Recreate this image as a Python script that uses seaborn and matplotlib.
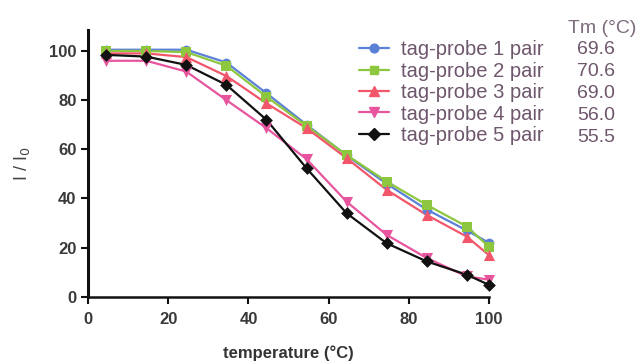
import matplotlib
matplotlib.use("Agg")
import matplotlib.pyplot as plt
from matplotlib.lines import Line2D
import seaborn as sns
import pandas as pd

# ---- data ----
temperature = [4.5, 14.5, 24.5, 34.5, 44.5, 54.5, 64.5, 74.5, 84.5, 94.5, 100]
probe1 = [100.5, 100.5, 100.5, 95.3, 82.8, 70.0, 57.5, 46.0, 35.5, 27.0, 22.0]
probe2 = [100.0, 100.0, 99.5, 94.0, 81.4, 69.5, 57.7, 46.9, 37.4, 28.6, 20.4]
probe3 = [99.0, 99.0, 97.5, 89.8, 78.7, 68.6, 56.4, 43.5, 33.3, 24.5, 17.0]
probe4 = [96.0, 96.0, 91.6, 80.0, 68.6, 56.0, 38.7, 25.2, 15.8, 8.3, 7.0]
probe5 = [98.4, 97.7, 94.3, 86.2, 72.0, 52.3, 34.0, 21.8, 14.4, 9.0, 4.9]
series_labels = ["tag-probe 1 pair", "tag-probe 2 pair", "tag-probe 3 pair",
                 "tag-probe 4 pair", "tag-probe 5 pair"]
tm_values = ["69.6", "70.6", "69.0", "56.0", "55.5"]
x_ticks = [0, 20, 40, 60, 80, 100]
y_ticks = [0, 20, 40, 60, 80, 100]

colors = ["#5b80d8", "#8dc63f", "#f2566b", "#e8559f", "#111111"]
markers = ["o", "s", "^", "v", "D"]
msizes = [7, 7, 8, 8, 6.5]

rows = []
for lab, vals in zip(series_labels, [probe1, probe2, probe3, probe4, probe5]):
    for t, v in zip(temperature, vals):
        rows.append({"temperature": t, "value": v, "series": lab})
df = pd.DataFrame(rows)

sns.set_theme(style="ticks")
plt.rcParams["font.family"] = ["Liberation Sans", "DejaVu Sans"]

fig = plt.figure(figsize=(6.44, 3.62), dpi=100)
ax = fig.add_axes([0.137, 0.180, 0.622, 0.737])

palette = dict(zip(series_labels, colors))
sns.lineplot(data=df, x="temperature", y="value", hue="series",
             palette=palette, lw=1.6, ax=ax, legend=False, zorder=2)
for lab, c, m, ms in zip(series_labels, colors, markers, msizes):
    sub = df[df["series"] == lab]
    sns.scatterplot(data=sub, x="temperature", y="value", color=c, marker=m,
                    s=ms ** 2, linewidth=0, ax=ax, legend=False,
                    clip_on=False, zorder=3)

ax.set_xlim(0, 100)
ax.set_ylim(0, 108.5)
ax.set_xticks(x_ticks)
ax.set_yticks(y_ticks)
sns.despine(ax=ax)
ax.spines["left"].set_linewidth(2.2)
ax.spines["bottom"].set_linewidth(1.8)
for sp in ("left", "bottom"):
    ax.spines[sp].set_color("#111111")
ax.tick_params(axis="both", direction="out", length=5, width=1.5,
               color="#111111", labelsize=12, labelcolor="#3a3a3a")
ax.tick_params(axis="x", pad=6)
for lab in ax.get_xticklabels() + ax.get_yticklabels():
    lab.set_fontweight("semibold")
ax.set_xlabel("temperature (°C)", fontsize=12, fontweight="bold",
              color="#333333", labelpad=13)
ax.set_ylabel("I / I$_0$", fontsize=13, color="#444444", labelpad=12)
ax.set_facecolor("white")

handles = [Line2D([0], [0], color=c, marker=m, markersize=ms * 0.9, lw=1.6)
           for c, m, ms in zip(colors, markers, msizes)]
leg = fig.legend(handles, series_labels, loc="upper left",
                 bbox_to_anchor=(0.545, 0.911), frameon=False,
                 fontsize=14.5, handlelength=1.5, handletextpad=0.6,
                 labelspacing=0.12, borderaxespad=0)
for t in leg.get_texts():
    t.set_color("#6e566c")

fig.text(0.882, 0.922, "Tm (°C)", fontsize=14, color="#7d6a7c",
         ha="left", va="center")
for i, tm in enumerate(tm_values):
    fig.text(0.896, 0.862 - i * 0.0608, tm, fontsize=14, color="#6e566c",
             ha="left", va="center")

fig.savefig("out.png", dpi=100, facecolor="white")
